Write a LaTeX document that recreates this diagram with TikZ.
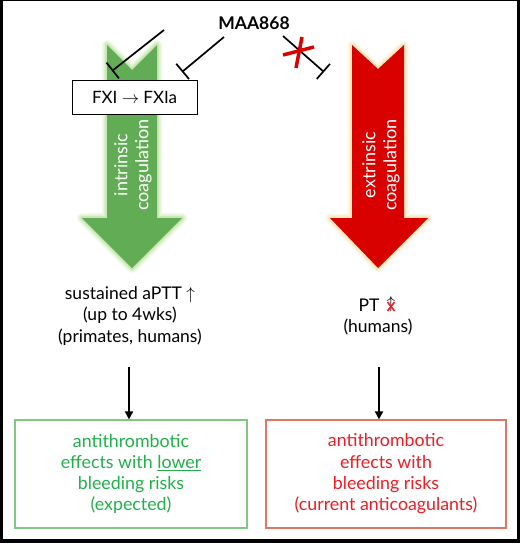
\documentclass[tikz,border=0pt]{standalone}
\usepackage{fontspec}
\setmainfont{Lato}
\usetikzlibrary{arrows.meta}
\definecolor{arrgreen}{RGB}{98,172,85}
\definecolor{glowgreen}{RGB}{160,215,120}
\definecolor{arrred}{RGB}{217,0,0}
\definecolor{glowred}{RGB}{248,222,160}
\definecolor{txtgreen}{RGB}{34,176,75}
\definecolor{boxgreen}{RGB}{130,200,130}
\definecolor{txtred}{RGB}{238,28,36}
\definecolor{boxred}{RGB}{222,120,100}
\tikzset{
  body/.style={font=\fontsize{17.5}{21.5}\selectfont, align=center, inner sep=0pt},
  arrtext/.style={rotate=90, text=white, align=center, font=\fontsize{18}{21}\selectfont, inner sep=0pt},
  inhib/.style={line width=1.7pt, -{Bar[width=20pt,line width=1.7pt]}},
  resbox/.style={draw, line width=1.2pt, minimum height=108pt, font=\fontsize{17.8}{21.3}\selectfont, align=center},
  down/.style={line width=1.8pt, -{Triangle[width=8pt,length=8pt]}},
  crossx/.style={draw=arrred, line width=3.5pt},
  smallx/.style={draw=txtred, line width=1.6pt}
}
\begin{document}
\begin{tikzpicture}[x=1pt,y=-1pt]
\useasboundingbox (0,0) rectangle (520,543);
\fill[black] (0,0) rectangle (520,543);
\fill[white] (2.5,1.5) rectangle (516.5,538.5);
% green arrow glow
\foreach \w/\o in {10/0.15,7/0.2,4/0.35}
  \draw[glowgreen, line width=\w pt, opacity=\o, line join=round]
   (107,45) -- (132,70) -- (157,45) -- (157,218) -- (182,218) -- (132,268) -- (82,218) -- (107,218) -- cycle;
\fill[arrgreen] (107,45) -- (132,70) -- (157,45) -- (157,218) -- (182,218) -- (132,268) -- (82,218) -- (107,218) -- cycle;
% red arrow glow
\foreach \w/\o in {9/0.2,6/0.3,3.5/0.5}
  \draw[glowred, line width=\w pt, opacity=\o, line join=round]
   (352,45) -- (378,69) -- (404,45) -- (404,218) -- (428,218) -- (378,268) -- (330,218) -- (352,218) -- cycle;
\fill[arrred] (352,45) -- (378,69) -- (404,45) -- (404,218) -- (428,218) -- (378,268) -- (330,218) -- (352,218) -- cycle;
% arrow texts
\node[arrtext] (gtext) at (133,165) {intrinsic\\coagulation};
\node[arrtext] (rtext) at (381,165) {extrinsic\\coagulation};
% MAA868
\node[font=\fontsize{17.5}{20}\selectfont\bfseries, inner sep=0pt] (maa) at (254,23) {MAA868};
% FXI box
\node[draw, fill=white, line width=0.8pt, minimum width=125pt, minimum height=34pt, font=\fontsize{17}{20}\selectfont] (fxi) at (134.5,97) {FXI $\rightarrow$ FXIa};
% inhibitor lines
\coordinate (s1) at (164,30);
\coordinate (e1) at (112,71);
\coordinate (s2) at (224,37);
\coordinate (e2) at (182,72);
\coordinate (s3) at (283,36);
\coordinate (e3) at (324,72);
\draw[inhib] (s1) -- (e1);
\draw[inhib] (s2) -- (e2);
\draw[inhib] (s3) -- (e3);
% red cross
\coordinate (xa1) at (302,37);
\coordinate (xa2) at (296,68);
\coordinate (xb1) at (283,55);
\coordinate (xb2) at (314,47);
\draw[crossx] (xa1) -- (xa2);
\draw[crossx] (xb1) -- (xb2);
% results text
\node[body] (aptt) at (130,316) {sustained aPTT $\uparrow$\\(up to 4wks)\\(primates, humans)};
\node[body] (pt) at (369,305) {PT};
\node[inner sep=0pt, font=\fontsize{16}{16}\selectfont] (ptarr) at (391,304) {$\uparrow$};
\coordinate (px1) at (387.5,302);
\coordinate (px2) at (394.5,311);
\coordinate (px3) at (394.5,302);
\coordinate (px4) at (387.5,311);
\draw[smallx] (px1) -- (px2);
\draw[smallx] (px3) -- (px4);
\node[body] (hum) at (378,327) {(humans)};
% boxes
\node[resbox, draw=boxgreen, text=txtgreen, minimum width=232pt] (gbox) at (131,474) {antithrombotic\\effects with \underline{lower}\\bleeding risks\\(expected)};
\node[resbox, draw=boxred, text=txtred, minimum width=240pt] (rbox) at (386,474) {antithrombotic\\effects with\\bleeding risks\\(current anticoagulants)};
% down arrows
\coordinate (d1) at (129,367);
\coordinate (d2) at (379,367);
\draw[down] (d1) -- (d1 |- gbox.north);
\draw[down] (d2) -- (d2 |- rbox.north);
\end{tikzpicture}
\end{document}
